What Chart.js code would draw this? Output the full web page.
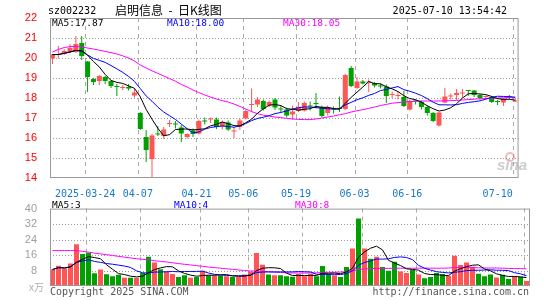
<!DOCTYPE html>
<html>
<head>
<meta charset="utf-8">
<script src="https://cdn.jsdelivr.net/npm/chart.js@4.4.0/dist/chart.umd.min.js"></script>
<style>
  html, body { margin: 0; padding: 0; background: #fff; }
  #wrap { position: relative; width: 545px; height: 300px; overflow: hidden; }
  #kChart { position: absolute; left: 0; top: 0; }
  #volChart { position: absolute; left: 0; top: 197px; }
</style>
</head>
<body>
<div id="wrap">
  <canvas id="kChart" width="545" height="197"></canvas>
  <canvas id="volChart" width="545" height="103"></canvas>
</div>
<script>
// Handelstage 2025-03-14 .. 2025-07-10
const dates = [
  '2025-03-14', '2025-03-17', '2025-03-18', '2025-03-19', '2025-03-20', '2025-03-21',
  '2025-03-24', '2025-03-25', '2025-03-26', '2025-03-27', '2025-03-28',
  '2025-03-31', '2025-04-01', '2025-04-02', '2025-04-03',
  '2025-04-07', '2025-04-08', '2025-04-09', '2025-04-10', '2025-04-11',
  '2025-04-14', '2025-04-15', '2025-04-16', '2025-04-17', '2025-04-18',
  '2025-04-21', '2025-04-22', '2025-04-23', '2025-04-24', '2025-04-25',
  '2025-04-28', '2025-04-29', '2025-04-30',
  '2025-05-06', '2025-05-07', '2025-05-08', '2025-05-09',
  '2025-05-12', '2025-05-13', '2025-05-14', '2025-05-15', '2025-05-16',
  '2025-05-19', '2025-05-20', '2025-05-21', '2025-05-22', '2025-05-23',
  '2025-05-26', '2025-05-27', '2025-05-28', '2025-05-29', '2025-05-30',
  '2025-06-03', '2025-06-04', '2025-06-05', '2025-06-06',
  '2025-06-09', '2025-06-10', '2025-06-11', '2025-06-12', '2025-06-13',
  '2025-06-16', '2025-06-17', '2025-06-18', '2025-06-19', '2025-06-20',
  '2025-06-23', '2025-06-24', '2025-06-25', '2025-06-26', '2025-06-27',
  '2025-06-30', '2025-07-01', '2025-07-02', '2025-07-03', '2025-07-04',
  '2025-07-07', '2025-07-08', '2025-07-09', '2025-07-10'
];

const opens = [
  19.97, 20.15, 20.22, 20.30, 20.30, 20.75, 19.82, 18.95, 18.85, 19.05,
  18.85, 18.60, 18.50, 18.55, 18.12, 17.25, 16.05, 14.95, 16.20, 16.10,
  16.70, 16.72, 16.52, 16.05, 16.38, 16.22, 16.87, 16.93, 16.93, 16.58,
  16.77, 16.33, 16.55, 16.97, 17.65, 17.68, 17.85, 17.63, 17.93, 17.45,
  17.42, 17.18, 17.35, 17.38, 17.60, 17.74, 17.55, 17.25, 17.45, 17.50,
  17.45, 19.50, 18.50, 18.83, 18.78, 18.75, 18.60, 18.58, 18.15, 18.10,
  18.05, 17.43, 17.85, 17.80, 17.55, 17.25, 16.63, 17.78, 18.08, 18.15,
  18.23, 18.37, 18.38, 18.15, 18.05, 18.05, 17.85, 17.77, 18.07, 17.82
];
const highs = [
  20.20, 20.60, 20.45, 20.70, 21.10, 21.10, 19.85, 19.00, 19.15, 19.10,
  18.90, 18.70, 18.65, 18.70, 18.50, 17.30, 16.40, 16.20, 16.60, 16.55,
  16.90, 16.85, 16.65, 16.22, 16.48, 16.92, 17.02, 17.02, 17.02, 16.88,
  16.88, 16.55, 16.98, 17.43, 18.47, 18.05, 17.93, 17.88, 18.00, 17.62,
  17.52, 17.63, 17.80, 17.83, 17.83, 18.25, 17.63, 17.63, 17.58, 18.08,
  19.20, 19.60, 19.05, 18.90, 18.92, 18.80, 18.72, 18.67, 18.33, 18.30,
  18.35, 17.93, 17.93, 17.88, 17.63, 17.30, 17.30, 18.50, 18.22, 18.45,
  18.45, 18.38, 18.40, 18.20, 18.12, 18.10, 17.90, 18.00, 18.15, 18.00
];
const lows = [
  19.70, 19.97, 20.15, 20.25, 20.25, 19.90, 18.30, 18.65, 18.65, 18.70,
  18.50, 18.10, 18.40, 18.38, 18.02, 16.40, 14.80, 14.00, 16.10, 15.95,
  16.55, 16.47, 15.80, 15.98, 16.05, 16.18, 16.67, 16.75, 16.45, 16.42,
  16.35, 16.00, 16.40, 16.92, 17.30, 17.55, 17.38, 17.55, 17.40, 17.25,
  17.02, 16.92, 17.30, 17.33, 17.38, 17.47, 17.02, 17.13, 17.22, 17.30,
  17.40, 18.55, 18.45, 18.67, 18.30, 18.52, 18.47, 17.75, 18.00, 17.92,
  17.55, 17.38, 17.68, 17.42, 17.13, 16.80, 16.58, 17.75, 17.92, 17.90,
  18.00, 18.10, 18.05, 17.93, 17.98, 17.75, 17.65, 17.60, 17.95, 17.80
];
const closes = [
  20.17, 20.18, 20.35, 20.50, 20.70, 20.10, 19.05, 18.80, 19.10, 18.85,
  18.60, 18.55, 18.55, 18.47, 18.27, 16.45, 15.40, 16.12, 16.17, 16.42,
  16.73, 16.68, 16.22, 16.20, 16.20, 16.85, 16.83, 16.97, 16.55, 16.80,
  16.42, 16.36, 16.88, 17.35, 17.68, 17.92, 17.45, 17.80, 17.52, 17.42,
  17.13, 17.33, 17.55, 17.75, 17.57, 17.70, 17.10, 17.55, 17.42, 17.45,
  19.15, 18.60, 18.83, 18.72, 18.80, 18.63, 18.57, 18.10, 18.18, 18.13,
  17.60, 17.85, 17.82, 17.55, 17.25, 16.85, 17.27, 18.08, 18.12, 18.25,
  18.26, 18.35, 18.15, 18.00, 18.08, 17.80, 17.80, 17.97, 18.03, 17.86
];
const ma30Price = [
  20.30, 20.43, 20.52, 20.57, 20.58, 20.55, 20.50, 20.45, 20.39, 20.33,
  20.27, 20.20, 20.11, 20.00, 19.85, 19.65, 19.50, 19.36, 19.23, 19.10,
  18.97, 18.84, 18.68, 18.55, 18.40, 18.27, 18.15, 18.05, 17.95, 17.87,
  17.80, 17.70, 17.58, 17.45, 17.32, 17.22, 17.14, 17.09, 17.05, 17.02,
  16.98, 16.95, 16.93, 16.92, 16.92, 16.95, 17.00, 17.05, 17.10, 17.16,
  17.22, 17.30, 17.36, 17.42, 17.48, 17.55, 17.62, 17.68, 17.74, 17.77,
  17.80, 17.82, 17.84, 17.85, 17.85, 17.85, 17.85, 17.86, 17.87, 17.88,
  17.90, 17.92, 17.94, 17.96, 17.97, 17.99, 18.00, 18.01, 18.03, 18.05
];
// Volumen in 万手
const volumes = [
  8.5, 10.5, 9.0, 11.6, 21.6, 16.5, 17.2, 6.6, 8.5, 6.1,
  5.0, 5.8, 4.2, 4.3, 4.2, 6.7, 15.1, 12.2, 8.6, 7.5,
  6.2, 4.6, 5.6, 4.3, 4.6, 7.9, 5.6, 5.4, 5.4, 5.1,
  4.6, 4.6, 5.9, 7.5, 17.0, 11.0, 5.9, 5.6, 5.6, 5.1,
  4.8, 6.2, 5.1, 6.2, 5.1, 10.3, 6.2, 5.6, 4.6, 9.8,
  19.4, 34.9, 19.4, 14.1, 15.1, 9.8, 7.9, 12.5, 7.5, 6.7,
  8.3, 5.9, 4.0, 4.6, 6.7, 6.2, 5.3, 15.6, 10.8, 12.1,
  9.9, 6.3, 5.0, 5.9, 4.4, 5.8, 3.6, 5.0, 4.8, 2.6
];
const ma30Vol = [
  18.3, 18.3, 18.3, 18.3, 18.3, 17.9, 17.5, 17.0, 16.6, 16.2,
  15.8, 15.3, 14.9, 14.5, 14.1, 13.8, 13.5, 13.1, 12.7, 12.4,
  12.0, 11.6, 11.2, 10.9, 10.5, 10.2, 9.8, 9.5, 9.2, 8.9,
  8.6, 8.3, 8.0, 7.8, 7.7, 7.6, 7.4, 7.2, 7.0, 6.8,
  6.7, 6.7, 6.7, 6.7, 6.8, 7.0, 7.1, 7.1, 7.2, 7.4,
  7.8, 8.5, 8.8, 9.0, 9.1, 9.1, 9.1, 9.2, 9.2, 9.2,
  9.2, 9.2, 9.3, 9.2, 9.2, 9.2, 9.3, 9.5, 9.6, 9.6,
  9.5, 9.4, 9.3, 9.3, 9.3, 9.2, 9.1, 9.0, 9.0, 8.9
];

const tickDates = ['2025-03-24', '2025-04-07', '2025-04-21', '2025-05-06', '2025-05-19', '2025-06-03', '2025-06-16', '2025-07-10'];
const priceTicks = [14, 15, 16, 17, 18, 19, 20, 21, 22];
const volTicks = [0, 8, 16, 24, 32, 40];

const RED = '#ff5555';
const GREEN = '#00a000';
const GRID = '#999999';
const MONO = '"DejaVu Sans Mono", monospace';

// gleitender Durchschnitt (am Anfang mit verkürztem Fenster)
function movingAvg(arr, n) {
  return arr.map((_, i) => {
    const part = arr.slice(Math.max(0, i - n + 1), i + 1);
    return part.reduce((a, b) => a + b, 0) / part.length;
  });
}

const isUp = i => closes[i] >= opens[i];
const candleColor = c => isUp(c.dataIndex) ? RED : GREEN;

// x-Achse: Kerzenmitte liegt 2.5px rechts von der Rasterlinie
const X_MIN = -5 / 12;
function xScale(withLabels) {
  const last = dates.length - 1;
  return {
    type: 'linear',
    offset: false,
    min: X_MIN,
    max: X_MIN + dates.length,
    afterBuildTicks: s => { s.ticks = tickDates.map(d => ({ value: dates.indexOf(d) + X_MIN })); },
    afterFit: s => { s.height = withLabels ? 19 : 14; },
    grid: { display: false, offset: false },
    border: { display: false },
    ticks: {
      display: withLabels,
      autoSkip: false,
      maxRotation: 0,
      padding: 2,
      color: '#1877cc',
      font: { family: MONO, size: 10 },
      callback: v => {
        const i = Math.round(v - X_MIN);
        if (i === dates.indexOf(tickDates[0])) return dates[i];
        // letztes Datum endet an der Rasterlinie statt mittig
        return i === last ? dates[i].slice(5) + '     ' : dates[i].slice(5);
      }
    }
  };
}

function yScale(ticks, color) {
  return {
    min: ticks[0],
    max: ticks[ticks.length - 1],
    afterBuildTicks: s => { s.ticks = ticks.map(v => ({ value: v })); },
    afterFit: s => { s.width = 50; },
    grid: { display: false },
    border: { display: false },
    ticks: {
      autoSkip: false,
      padding: 5,
      color: color,
      font: { family: 'Liberation Sans', size: 11 },
      callback: v => (v === 0 ? '' : v)
    }
  };
}

// Raster: gepunktet waagrecht, gestrichelt senkrecht, dann grauer Rahmen
const gridPlugin = {
  id: 'sinaGrid',
  beforeDatasetsDraw(chart) {
    const { ctx, chartArea: a, scales } = chart;
    ctx.save();
    ctx.strokeStyle = GRID;
    ctx.lineWidth = 1;
    ctx.setLineDash([1, 2]);
    scales.y.ticks.forEach(t => {
      if (t.value <= scales.y.min || t.value >= scales.y.max) return;
      const py = Math.round(scales.y.getPixelForValue(t.value)) + 0.5;
      ctx.beginPath();
      ctx.moveTo(a.left, py);
      ctx.lineTo(a.right, py);
      ctx.stroke();
    });
    ctx.strokeStyle = '#aaaaaa';
    ctx.setLineDash([4, 4]);
    scales.x.ticks.forEach(t => {
      const px = Math.round(scales.x.getPixelForValue(t.value)) + 0.5;
      ctx.beginPath();
      ctx.moveTo(px, a.top);
      ctx.lineTo(px, a.bottom);
      ctx.stroke();
    });
    ctx.restore();
  },
  afterDraw(chart) {
    const { ctx, chartArea: a } = chart;
    ctx.save();
    ctx.strokeStyle = '#999999';
    ctx.lineWidth = 1;
    ctx.strokeRect(a.left + 0.5, a.top + 0.5, a.right - a.left - 1, a.bottom - a.top - 1);
    ctx.restore();
  }
};

const lineDs = (label, values, color) => ({
  type: 'line',
  label: label,
  data: values.map((v, i) => ({ x: i, y: v })),
  borderColor: color,
  borderWidth: 1,
  pointRadius: 0,
  tension: 0,
  order: 0
});

const baseOptions = {
  responsive: false,
  maintainAspectRatio: false,
  animation: false,
  events: [],
  plugins: { legend: { display: false }, tooltip: { enabled: false } }
};

// ---------- K-Linie ----------
const kTexts = {
  id: 'kTexts',
  afterDraw(chart) {
    const ctx = chart.ctx;
    ctx.save();
    ctx.textBaseline = 'middle';
    ctx.textAlign = 'left';
    ctx.fillStyle = '#000';
    ctx.font = '10px ' + MONO;
    ctx.fillText('sz002232', 48, 11);
    ctx.font = '12px "Noto Sans CJK SC"';
    ctx.fillText('启明信息  -  日K线图', 115, 10);
    ctx.font = '10px ' + MONO;
    ctx.textAlign = 'right';
    ctx.fillText('2025-07-10 13:54:42', 507, 11);

    ctx.textAlign = 'left';
    ctx.font = '9.5px ' + MONO;
    ctx.fillStyle = '#000000';
    ctx.fillText('MA5:17.87', 52, 24);
    ctx.fillStyle = '#0000ff';
    ctx.fillText('MA10:18.00', 167, 24);
    ctx.fillStyle = '#ff00ff';
    ctx.fillText('MA30:18.05', 283, 24);

    // sina Wasserzeichen
    ctx.strokeStyle = 'rgba(230,120,120,0.5)';
    ctx.lineWidth = 2;
    ctx.beginPath();
    ctx.arc(510, 157, 4, 0, Math.PI * 2);
    ctx.stroke();
    ctx.fillStyle = 'rgba(170,170,170,0.6)';
    ctx.font = 'italic bold 15px "Liberation Sans"';
    ctx.fillText('sina', 497, 166);
    ctx.restore();
  }
};

new Chart(document.getElementById('kChart'), {
  type: 'bar',
  data: {
    datasets: [
      lineDs('MA5', movingAvg(closes, 5), '#000000'),
      lineDs('MA10', movingAvg(closes, 10), '#0000ff'),
      lineDs('MA30', ma30Price, '#ff00ff'),
      {
        label: 'body',
        data: dates.map((d, i) => ({ x: i, y: [opens[i], closes[i]] })),
        backgroundColor: candleColor,
        barThickness: 5,
        minBarLength: 1,
        grouped: false,
        inflateAmount: 0,
        borderWidth: 0,
        order: 1
      },
      {
        label: 'wick',
        data: dates.map((d, i) => ({ x: i, y: [lows[i], highs[i]] })),
        backgroundColor: candleColor,
        barThickness: 1,
        grouped: false,
        inflateAmount: 0,
        borderWidth: 0,
        order: 2
      }
    ]
  },
  options: {
    ...baseOptions,
    layout: { padding: { top: 18, right: 15, left: 0, bottom: 0 } },
    scales: { x: xScale(true), y: yScale(priceTicks, '#ff0000') }
  },
  plugins: [gridPlugin, kTexts]
});

// ---------- Volumen ----------
const volTexts = {
  id: 'volTexts',
  afterDraw(chart) {
    const ctx = chart.ctx;
    ctx.save();
    ctx.textBaseline = 'middle';
    ctx.textAlign = 'left';
    ctx.font = '9.5px ' + MONO;
    ctx.fillStyle = '#000000';
    ctx.fillText('MA5:3', 52, 9);
    ctx.fillStyle = '#0000ff';
    ctx.fillText('MA10:4', 174, 9);
    ctx.fillStyle = '#ff00ff';
    ctx.fillText('MA30:8', 295, 9);

    ctx.fillStyle = '#b0b0b0';
    ctx.font = '10px "Noto Sans CJK SC"';
    ctx.textAlign = 'right';
    ctx.fillText('x万', 44, 90);

    ctx.fillStyle = '#555555';
    ctx.font = '10px ' + MONO;
    ctx.textAlign = 'left';
    ctx.fillText('Copyright 2025 SINA.COM', 50, 95);
    ctx.textAlign = 'right';
    ctx.fillText('http://finance.sina.com.cn', 529, 95);
    ctx.restore();
  }
};

new Chart(document.getElementById('volChart'), {
  type: 'bar',
  data: {
    datasets: [
      lineDs('MA5', movingAvg(volumes, 5), '#000000'),
      lineDs('MA10', movingAvg(volumes, 10), '#0000ff'),
      lineDs('MA30', ma30Vol, '#ff00ff'),
      {
        label: 'vol',
        data: volumes.map((v, i) => ({ x: i, y: v })),
        backgroundColor: candleColor,
        barThickness: 5,
        grouped: false,
        inflateAmount: 0,
        borderWidth: 0,
        order: 1
      }
    ]
  },
  options: {
    ...baseOptions,
    layout: { padding: { top: 4, right: 15, left: 0, bottom: 0 } },
    scales: { x: xScale(false), y: yScale(volTicks, '#a0a0a0') }
  },
  plugins: [gridPlugin, volTexts]
});
</script>
</body>
</html>
